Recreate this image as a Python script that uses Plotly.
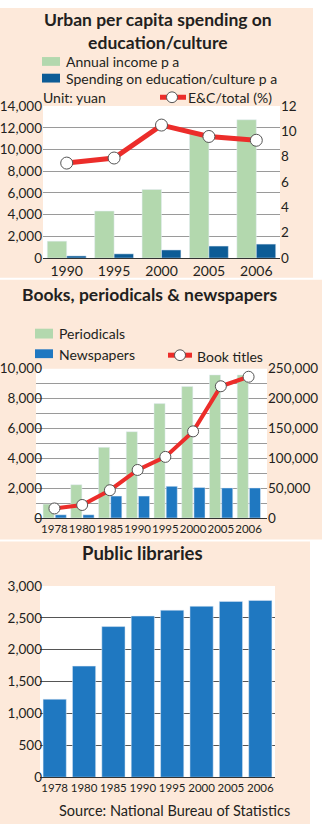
import plotly.graph_objects as go

W, H = 322, 832

# ---------------- data ----------------
years1 = ["1990", "1995", "2000", "2005", "2006"]
annual_income = [1560, 4330, 6320, 11470, 12740]
edu_spending = [200, 390, 750, 1110, 1290]
ec_share = [7.5, 7.9, 10.5, 9.6, 9.3]

years2 = ["1978", "1980", "1985", "1990", "1995", "2000", "2005", "2006"]
periodicals = [930, 2230, 4730, 5780, 7660, 8800, 9580, 9580]
newspapers = [215, 215, 1465, 1465, 2120, 2040, 2010, 2010]
book_titles = [16000, 21800, 46500, 80400, 102300, 145000, 220500, 236400]

years3 = ["1978", "1980", "1985", "1990", "1995", "2000", "2005", "2006"]
libraries = [1224, 1743, 2363, 2528, 2620, 2682, 2758, 2774]

# ---------------- styles ----------------
PEACH = "#fde9da"
GREEN = "#b3d8ae"
BLUE1 = "#0d5c96"
BLUE2 = "#1f78c1"
RED = "#ec2d2a"
TXT = "#231f20"
FONT = "Lato, sans-serif"

def px(x):
    return x / W

def py(y):
    return 1 - y / H

fig = go.Figure()

# chart 1
fig.add_trace(go.Bar(x=years1, y=annual_income, marker_color=GREEN, width=0.41, offset=-0.41,
                     xaxis="x", yaxis="y", showlegend=False))
fig.add_trace(go.Bar(x=years1, y=edu_spending, marker_color=BLUE1, width=0.41, offset=0.0,
                     xaxis="x", yaxis="y", showlegend=False))
fig.add_trace(go.Scatter(x=years1, y=ec_share, mode="lines+markers", xaxis="x", yaxis="y2",
                         line=dict(color=RED, width=5),
                         marker=dict(size=12, color="white", line=dict(color="#555", width=1)),
                         showlegend=False))

# chart 2
fig.add_trace(go.Bar(x=years2, y=periodicals, marker_color=GREEN, width=0.40, offset=-0.41,
                     xaxis="x3", yaxis="y3", showlegend=False))
fig.add_trace(go.Bar(x=years2, y=newspapers, marker_color=BLUE2, width=0.40, offset=0.03,
                     xaxis="x3", yaxis="y3", showlegend=False))
fig.add_trace(go.Scatter(x=years2, y=book_titles, mode="lines+markers", xaxis="x3", yaxis="y4",
                         line=dict(color=RED, width=4),
                         marker=dict(size=11, color="white", line=dict(color="#555", width=1)),
                         showlegend=False))

# chart 3
fig.add_trace(go.Bar(x=years3, y=libraries, marker_color=BLUE2, width=0.79,
                     xaxis="x5", yaxis="y5", showlegend=False))

tickfont = dict(family=FONT, size=13.5, color=TXT)

def xax(d, anchor, size=14):
    return dict(domain=d, anchor=anchor, type="category",
                tickfont=dict(family=FONT, size=size, color=TXT), tickangle=0,
                showline=True, linecolor="#333", linewidth=1, ticks="", showgrid=False,
                zeroline=False, fixedrange=True)

fig.update_layout(
    width=W, height=H, margin=dict(l=0, r=0, t=0, b=0),
    paper_bgcolor="white", plot_bgcolor="rgba(0,0,0,0)",
    barmode="overlay", showlegend=False,
    xaxis=xax([px(43), px(280)], "y", 14),
    yaxis=dict(domain=[py(255), py(100)], range=[0, 14000], dtick=2000, tickformat=",",
               tickfont=tickfont, gridcolor="#9a9a9a", zeroline=False, ticks="", fixedrange=True),
    yaxis2=dict(overlaying="y", side="right", anchor="x", range=[0, 12], dtick=2,
                tickfont=tickfont, showgrid=False, zeroline=False, ticks="", fixedrange=True),
    xaxis3=xax([px(36), px(267)], "y3", 11.5),
    yaxis3=dict(domain=[py(520), py(367.7)], range=[0, 10000], dtick=2000, tickformat=",",
                tickfont=tickfont, gridcolor="#9a9a9a", zeroline=False, ticks="",
                minor=dict(dtick=1000, showgrid=True, gridcolor="#9a9a9a"), fixedrange=True),
    yaxis4=dict(overlaying="y3", side="right", anchor="x3", range=[0, 250000], dtick=50000,
                tickformat=",", tickfont=tickfont, showgrid=False, zeroline=False, ticks="",
                fixedrange=True),
    xaxis5=xax([px(40), px(275)], "y5", 11.5),
    yaxis5=dict(domain=[py(784.3), py(589.3)], range=[0, 3000], dtick=500, tickformat=",",
                tickfont=tickfont, gridcolor="#555", zeroline=False, ticks="", fixedrange=True),
)

shapes = []
def rect(x0, y0, x1, y1, color):
    shapes.append(dict(type="rect", xref="paper", yref="paper", x0=px(x0), x1=px(x1),
                       y0=py(y1), y1=py(y0), fillcolor=color, line=dict(width=0), layer="below"))

# panel backgrounds
rect(0, 0, 313, 275, PEACH)
rect(0, 277, 322, 542, PEACH)
rect(0, 544, 310, 832, PEACH)
# plot areas
rect(43, 100, 280, 255, "white")
rect(36, 367.7, 267, 520, "white")
rect(40, 589.3, 275, 784.3, "white")
# legend swatches
rect(42, 50, 60, 59, GREEN)
rect(42, 67, 60, 76, BLUE1)
rect(35, 327, 53, 337, GREEN)
rect(35, 348, 53, 357, BLUE2)

def line_legend(x0, x1, cx, cy, r):
    shapes.append(dict(type="line", xref="paper", yref="paper", x0=px(x0), x1=px(x1),
                       y0=py(cy), y1=py(cy), line=dict(color=RED, width=5)))
    shapes.append(dict(type="circle", xref="paper", yref="paper", x0=px(cx - r), x1=px(cx + r),
                       y0=py(cy + r), y1=py(cy - r), fillcolor="white",
                       line=dict(color="#555", width=1)))

line_legend(160, 186, 172, 91, 5.5)
line_legend(168, 192, 180, 354, 5.5)

fig.update_layout(shapes=shapes)

ann = []
def text(x, y, s, size=14, xanchor="left", bold=False):
    ann.append(dict(x=px(x), y=py(y), xref="paper", yref="paper", text=s, showarrow=False,
                    xanchor=xanchor, yanchor="middle", align="center" if xanchor == "center" else "left",
                    font=dict(family=FONT, size=size, color=TXT,
                              weight="bold" if bold else "normal")))

text(157.5, 23.5, "Urban per capita spending on<br>education/culture", 17.5, "center", True)
text(64, 54.5, "Annual income p a", 14)
text(64, 72, "Spending on education/culture p a", 14)
text(41, 91, "Unit: yuan", 14)
text(186, 91, "E&C/total (%)", 14)

text(149.5, 292, "Books, periodicals & newspapers", 17.5, "center", True)
text(57, 332, "Periodicals", 14)
text(57, 353, "Newspapers", 14)
text(195, 355, "Book titles", 14)

text(142.5, 556, "Public libraries", 18.5, "center", True)
text(57, 818, "Source: National Bureau of Statistics", 14.5)

fig.update_layout(annotations=ann)

fig.write_html("out.html")
